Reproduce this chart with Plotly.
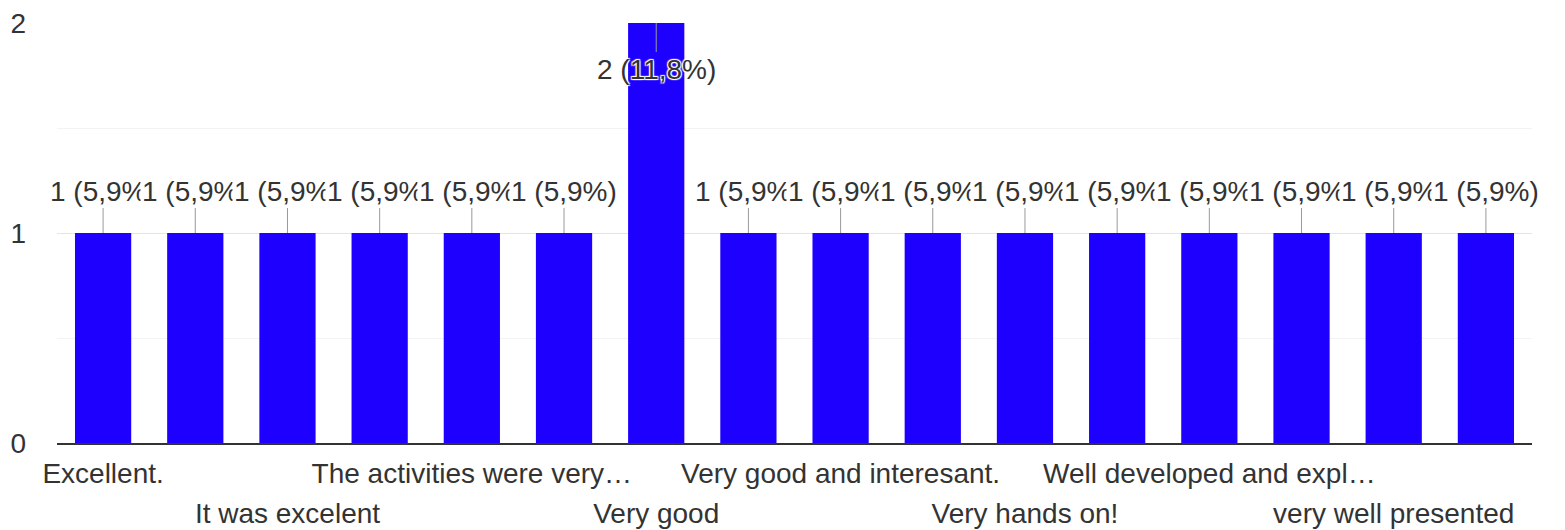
import plotly.graph_objects as go

# Data
positions = list(range(16))
values = [1, 1, 1, 1, 1, 1, 2, 1, 1, 1, 1, 1, 1, 1, 1, 1]
row1_positions = [0, 4, 8, 12]
row1_labels = ["Excellent.", "The activities were very…",
               "Very good and interesant.", "Well developed and expl…"]
row2_positions = [2, 6, 10, 14]
row2_labels = ["It was excelent", "Very good", "Very hands on!",
               "very well presented"]

FONT = "Liberation Sans, Arial, sans-serif"
BAR = "#1e00ff"
TXT = "#333333"
FS = 28

total = sum(values)

fig = go.Figure()
fig.add_trace(go.Bar(
    x=positions, y=values, marker=dict(color=BAR, line=dict(width=0)),
    width=0.61, hoverinfo="skip",
))
# carrier for the second row of category labels (transparent)
fig.add_trace(go.Scatter(
    x=row2_positions, y=[values[p] for p in row2_positions], xaxis="x2",
    mode="markers", marker=dict(opacity=0, size=1), hoverinfo="skip",
))

halo = ("white 1px 1px 1px, white -1px -1px 1px, white 1px -1px 1px, "
        "white -1px 1px 1px")
annotations = []
for x, v in zip(positions, values):
    label = f"{v} ({v / total * 100:.1f}%)".replace(".", ",")
    if v == max(values):
        annotations.append(dict(
            x=x, y=v, xref="x", yref="y", text=label, showarrow=True,
            arrowhead=0, arrowwidth=1, arrowcolor="#999999", ax=0, ay=46,
            font=dict(family=FONT, size=FS, color=TXT, shadow=halo),
        ))
    else:
        annotations.append(dict(
            x=x, y=v, xref="x", yref="y", text=label, showarrow=True,
            arrowhead=0, arrowwidth=1, arrowcolor="#999999", ax=0, ay=-42,
            bgcolor="white", borderpad=1,
            font=dict(family=FONT, size=FS, color=TXT),
        ))

xrange = [-0.5, 15.5]
fig.update_layout(
    width=1565, height=530,
    margin=dict(l=57, r=33, t=23, b=87),
    paper_bgcolor="white", plot_bgcolor="white",
    showlegend=False, bargap=0.39,
    font=dict(family=FONT, size=FS, color=TXT),
    annotations=annotations,
    xaxis=dict(
        range=xrange, tickmode="array", tickvals=row1_positions,
        ticktext=row1_labels, showgrid=False, zeroline=False,
        showline=True, linecolor="#333333", linewidth=2,
        ticks="", ticklabelstandoff=4, tickangle=0, automargin=False,
        ticklabeloverflow="allow",
        tickfont=dict(family=FONT, size=FS, color=TXT),
    ),
    xaxis2=dict(
        range=xrange, overlaying="x", side="bottom", anchor="y",
        tickmode="array", tickvals=row2_positions, ticktext=row2_labels,
        showgrid=False, zeroline=False, showline=False,
        ticks="", ticklabelstandoff=51, tickangle=0, automargin=False,
        ticklabeloverflow="allow",
        tickfont=dict(family=FONT, size=FS, color=TXT),
    ),
    yaxis=dict(
        range=[0, 2], tickmode="array", tickvals=[0, 1, 2],
        showgrid=True, gridcolor="#e4e4e4", gridwidth=1,
        zeroline=False, showline=False, ticks="", automargin=False,
        ticklabelstandoff=30, ticklabeloverflow="allow",
        tickfont=dict(family=FONT, size=FS, color=TXT),
        minor=dict(dtick=0.5, tick0=0, showgrid=True, gridcolor="#f3f3f3", gridwidth=1),
    ),
)

fig.write_html(
    "out.html",
    config={"displayModeBar": False},
    post_script="document.body.style.margin='0';document.body.style.overflow='hidden';",
)
